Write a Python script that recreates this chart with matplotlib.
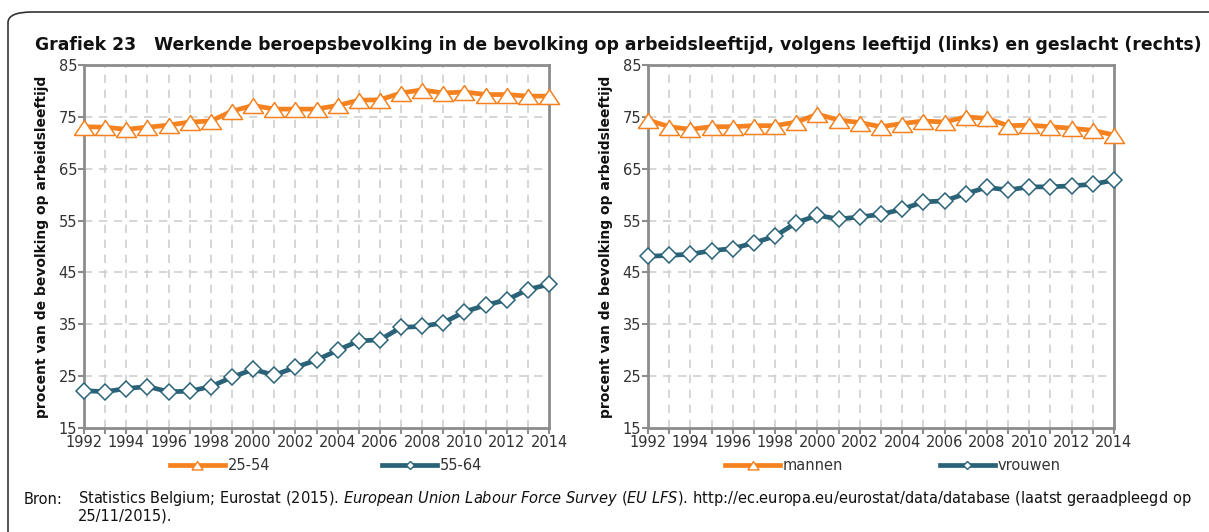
import matplotlib
matplotlib.use("Agg")
import matplotlib.pyplot as plt
from matplotlib.patches import FancyBboxPatch
from matplotlib.lines import Line2D

years = list(range(1992, 2015))
age_25_54 = [73.1, 73.0, 72.6, 73.0, 73.4, 74.0, 74.2, 76.1, 77.2, 76.5, 76.5, 76.5,
             77.2, 78.2, 78.3, 79.6, 80.2, 79.6, 79.8, 79.3, 79.3, 79.0, 79.0]
age_55_64 = [22.2, 22.0, 22.6, 23.0, 22.0, 22.1, 23.0, 24.8, 26.3, 25.2, 26.7, 28.1,
             30.0, 31.8, 32.0, 34.4, 34.6, 35.3, 37.4, 38.7, 39.7, 41.7, 42.7]
mannen = [74.4, 73.1, 72.6, 73.1, 73.1, 73.3, 73.3, 74.0, 75.5, 74.4, 73.9, 73.1,
          73.7, 74.2, 74.0, 75.0, 74.7, 73.3, 73.4, 73.1, 72.8, 72.4, 71.5]
vrouwen = [48.1, 48.3, 48.5, 49.2, 49.6, 50.7, 52.0, 54.6, 56.0, 55.3, 55.7, 56.2,
           57.2, 58.6, 58.8, 60.2, 61.4, 60.9, 61.5, 61.5, 61.7, 62.0, 62.8]
yticks = [15, 25, 35, 45, 55, 65, 75, 85]

ORANGE = "#F5821F"
TEAL = "#2A6278"
GRID = "#D0D0D0"
SPINE = "#8C8C8C"
TXT = "#333333"

TRI = [(-1, -0.8), (1, -0.8), (0, 0.7), (-1, -0.8)]

W, H = 1209, 532
fig = plt.figure(figsize=(W / 100, H / 100), dpi=100)

# border
box = FancyBboxPatch((8 / W, -0.1), 1.2, (532 - 12) / H + 0.1,
                     boxstyle="round,pad=0,rounding_size=0.02",
                     transform=fig.transFigure, fill=False, ec="#333333", lw=1.2)
fig.patches.append(box)

fig.text(35 / W, 1 - 45 / H,
         "Grafiek 23   Werkende beroepsbevolking in de bevolking op arbeidsleeftijd, volgens leeftijd (links) en geslacht (rechts)",
         fontsize=12.4, fontweight="bold", va="center", ha="left", color="#111111")


def make_ax(left_px, right_px, s1, s2, lab1, lab2, leg_pos):
    ax = fig.add_axes([left_px / W, 1 - 428 / H, (right_px - left_px) / W, 363 / H])
    ax.set_xlim(1992, 2014)
    ax.set_ylim(15, 85)
    ax.set_yticks(yticks)
    ax.set_xticks(years)
    ax.set_xticklabels([str(y) if (y - 1992) % 2 == 0 else "" for y in years])
    for y in years[1:-1]:
        ax.axvline(y, color=GRID, lw=1.2, ls=(0, (5, 4)), zorder=0)
    for v in yticks[1:-1]:
        ax.axhline(v, color=GRID, lw=1.2, ls=(0, (5, 4)), zorder=0)
    for sp in ax.spines.values():
        sp.set_color(SPINE)
        sp.set_linewidth(2)
    ax.tick_params(axis="both", colors=SPINE, labelcolor=TXT, labelsize=10.5,
                   length=4, width=1.5, pad=1)
    ax.set_ylabel("procent van de bevolking op arbeidsleeftijd", fontsize=10,
                  fontweight="bold", color="#111111", labelpad=7)
    ax.plot(years, s1, color=ORANGE, lw=3.4, marker=TRI, ms=14.4, mfc="white",
            mec=ORANGE, mew=1.1, zorder=3, clip_on=False)
    ax.plot(years, s2, color=TEAL, lw=3.4, marker="D", ms=7.8, mfc="white",
            mec=TEAL, mew=1.1, zorder=3, clip_on=False)
    for x0, col, mk, msz, lab in [(leg_pos[0], ORANGE, TRI, 8, lab1),
                                  (leg_pos[1], TEAL, "D", 4.5, lab2)]:
        yy = 1 - 465 / H
        fig.add_artist(Line2D([x0 / W, (x0 + 55) / W], [yy, yy], color=col, lw=3.4,
                              transform=fig.transFigure))
        fig.add_artist(Line2D([(x0 + 27.5) / W], [yy], marker=mk, ms=msz, mfc="white",
                              mec=col, mew=1, transform=fig.transFigure, ls="none"))
        fig.text((x0 + 58) / W, yy, lab, fontsize=10.5, color=TXT, va="center", ha="left")
    return ax


ax1 = make_ax(84, 549, age_25_54, age_55_64, "25-54", "55-64", (170, 382))
ax2 = make_ax(648, 1114, mannen, vrouwen, "mannen", "vrouwen", (725, 940))

fig.text(24 / W, 1 - 499 / H, "Bron:", fontsize=10.5, color="#111111", va="center")
fig.text(78 / W, 1 - 499 / H,
         "Statistics Belgium; Eurostat (2015). $\\it{European\\ Union\\ Labour\\ Force\\ Survey\\ (EU\\ LFS)}$. http://ec.europa.eu/eurostat/data/database (laatst geraadpleegd op",
         fontsize=10.5, color="#111111", va="center")
fig.text(78 / W, 1 - 516 / H, "25/11/2015).", fontsize=10.5, color="#111111", va="center")

fig.savefig("out.png", dpi=100)
